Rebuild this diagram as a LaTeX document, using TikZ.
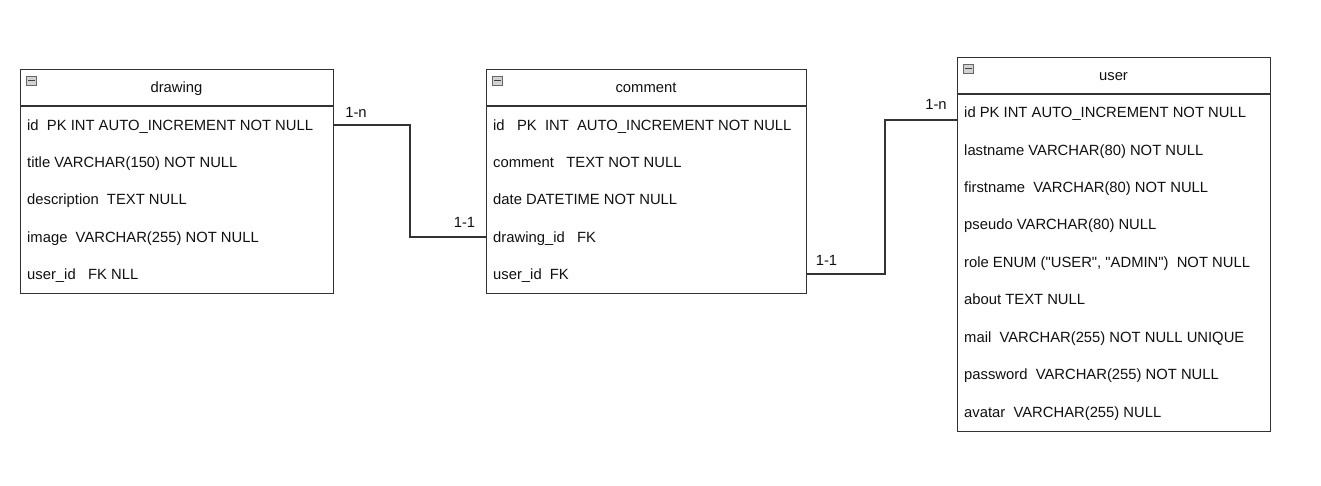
\documentclass[tikz,border=0pt]{standalone}
\usepackage{fontspec}
\setmainfont{Liberation Sans}[Ligatures=TeXOff]
\definecolor{lineC}{HTML}{333333}
\definecolor{textC}{HTML}{111111}
\begin{document}
\begin{tikzpicture}[x=1pt,y=-1pt,
  fnt/.style={font=\fontsize{14.8}{17}\selectfont, text=textC, inner sep=0pt, text height=10.6pt, text depth=0pt},
  tbl/.style={draw=lineC, line width=1.3pt, fill=white, anchor=north west, inner sep=0pt},
  hdr/.style={draw=lineC, line width=1.3pt},
  ttl/.style={fnt},
  row/.style={fnt, anchor=west},
  lbl/.style={fnt},
  conn/.style={draw=lineC, line width=1.3pt},
  minus/.style={draw=gray!80!black, fill=gray!35, line width=0.6pt, minimum width=10pt, minimum height=9pt, inner sep=0pt,
    path picture={\draw[line width=1.4pt, black!75] ([xshift=1.5pt]path picture bounding box.west) -- ([xshift=-1.5pt]path picture bounding box.east);}}
]
\useasboundingbox (0,0) rectangle (1321,486);

% ---- drawing ----
\node[tbl, minimum width=313pt, minimum height=224pt] (drawing) at (20,69) {};
\draw[hdr] (20,106) -- (333,106);
\node[minus] (dmin) at (31.5,80.5) {};
\node[ttl] (dT) at (176.5,87) {drawing};
\node[row] (d1) at (27,125) {id\ \ PK INT AUTO\_INCREMENT NOT NULL};
\node[row] (d2) at (27,162) {title VARCHAR(150) NOT NULL};
\node[row] (d3) at (27,199.5) {description\ \ TEXT NULL};
\node[row] (d4) at (27,237) {image\ \ VARCHAR(255) NOT NULL};
\node[row] (d5) at (27,274) {user\_id\ \ \ FK NLL};

% ---- comment ----
\node[tbl, minimum width=320pt, minimum height=224pt] (comment) at (486,69) {};
\draw[hdr] (486,106) -- (806,106);
\node[minus] (cmin) at (497.5,80.5) {};
\node[ttl] (cT) at (646,87) {comment};
\node[row] (c1) at (493,125) {id\ \ \ PK\ \ INT\ \ AUTO\_INCREMENT NOT NULL};
\node[row] (c2) at (493,162) {comment\ \ \ TEXT NOT NULL};
\node[row] (c3) at (493,199.5) {date DATETIME NOT NULL};
\node[row] (c4) at (493,237) {drawing\_id\ \ \ FK};
\node[row] (c5) at (493,274) {user\_id\ \ FK};

% ---- user ----
\node[tbl, minimum width=313pt, minimum height=374pt] (user) at (957,57) {};
\draw[hdr] (957,94) -- (1270,94);
\node[minus] (umin) at (968.5,68.5) {};
\node[ttl] (uT) at (1113.5,75) {user};
\node[row] (u1) at (964,112.5) {id PK INT AUTO\_INCREMENT NOT NULL};
\node[row] (u2) at (964,150) {lastname VARCHAR(80) NOT NULL};
\node[row] (u3) at (964,187.5) {firstname\ \ VARCHAR(80) NOT NULL};
\node[row] (u4) at (964,224.5) {pseudo VARCHAR(80) NULL};
\node[row] (u5) at (964,262) {role ENUM ("USER", "ADMIN")\ \ NOT NULL};
\node[row] (u6) at (964,299.5) {about TEXT NULL};
\node[row] (u7) at (964,337) {mail\ \ VARCHAR(255) NOT NULL UNIQUE};
\node[row] (u8) at (964,374.5) {password\ \ VARCHAR(255) NOT NULL};
\node[row] (u9) at (964,412) {avatar\ \ VARCHAR(255) NULL};

% ---- connectors ----
\coordinate (j1) at (410,0);
\coordinate (j2) at (885,0);
\coordinate (uin) at (957,120);
\draw[conn] (drawing.east |- d1) -| (j1 |- c4) -- (comment.west |- c4);
\draw[conn] (comment.east |- c5) -| (j2 |- uin) -- (uin);

\node[lbl] (l1) at (356,112) {1-n};
\node[lbl] (l2) at (464.5,222) {1-1};
\node[lbl] (l3) at (826.5,260) {1-1};
\node[lbl] (l4) at (936,104) {1-n};
\end{tikzpicture}
\end{document}
